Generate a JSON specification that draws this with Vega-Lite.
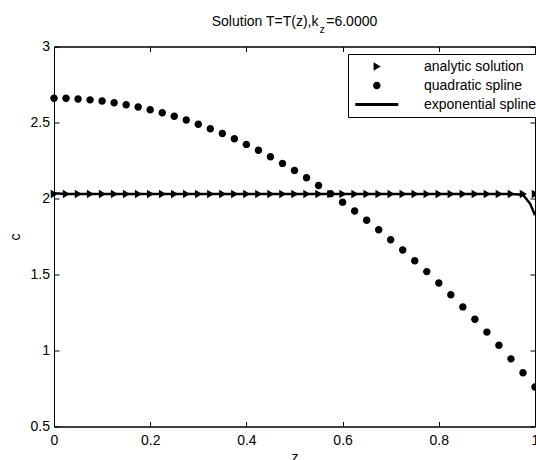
{
  "$schema": "https://vega.github.io/schema/vega-lite/v6.json",
  "width": 481,
  "height": 380,
  "autosize": {"type": "none"},
  "padding": {"left": 54, "top": 46.5, "right": 1, "bottom": 33.5},
  "background": "white",
  "title": {
    "text": "Solution T=T(z),k\u00a0\u00a0=6.0000",
    "subtitle": "\u200b\u00a0\u00a0\u00a0\u00a0\u00a0\u00a0\u00a0\u00a0\u00a0\u00a0\u00a0\u00a0\u00a0\u00a0\u00a0\u00a0\u00a0\u00a0\u00a0\u00a0z",
    "anchor": "middle",
    "font": "Liberation Sans",
    "fontSize": 14,
    "fontWeight": "normal",
    "color": "black",
    "subtitleFont": "Liberation Sans",
    "subtitleFontSize": 10,
    "subtitleColor": "black",
    "subtitlePadding": -4,
    "offset": 5
  },
  "datasets": {
    "markers": [
      {"z": 0, "c": 2.03, "s": "analytic solution"},
      {"z": 0.025, "c": 2.03, "s": "analytic solution"},
      {"z": 0.05, "c": 2.03, "s": "analytic solution"},
      {"z": 0.075, "c": 2.03, "s": "analytic solution"},
      {"z": 0.1, "c": 2.03, "s": "analytic solution"},
      {"z": 0.125, "c": 2.03, "s": "analytic solution"},
      {"z": 0.15, "c": 2.03, "s": "analytic solution"},
      {"z": 0.175, "c": 2.03, "s": "analytic solution"},
      {"z": 0.2, "c": 2.03, "s": "analytic solution"},
      {"z": 0.225, "c": 2.03, "s": "analytic solution"},
      {"z": 0.25, "c": 2.03, "s": "analytic solution"},
      {"z": 0.275, "c": 2.03, "s": "analytic solution"},
      {"z": 0.3, "c": 2.03, "s": "analytic solution"},
      {"z": 0.325, "c": 2.03, "s": "analytic solution"},
      {"z": 0.35, "c": 2.03, "s": "analytic solution"},
      {"z": 0.375, "c": 2.03, "s": "analytic solution"},
      {"z": 0.4, "c": 2.03, "s": "analytic solution"},
      {"z": 0.425, "c": 2.03, "s": "analytic solution"},
      {"z": 0.45, "c": 2.03, "s": "analytic solution"},
      {"z": 0.475, "c": 2.03, "s": "analytic solution"},
      {"z": 0.5, "c": 2.03, "s": "analytic solution"},
      {"z": 0.525, "c": 2.03, "s": "analytic solution"},
      {"z": 0.55, "c": 2.03, "s": "analytic solution"},
      {"z": 0.575, "c": 2.03, "s": "analytic solution"},
      {"z": 0.6, "c": 2.03, "s": "analytic solution"},
      {"z": 0.625, "c": 2.03, "s": "analytic solution"},
      {"z": 0.65, "c": 2.03, "s": "analytic solution"},
      {"z": 0.675, "c": 2.03, "s": "analytic solution"},
      {"z": 0.7, "c": 2.03, "s": "analytic solution"},
      {"z": 0.725, "c": 2.03, "s": "analytic solution"},
      {"z": 0.75, "c": 2.03, "s": "analytic solution"},
      {"z": 0.775, "c": 2.03, "s": "analytic solution"},
      {"z": 0.8, "c": 2.03, "s": "analytic solution"},
      {"z": 0.825, "c": 2.03, "s": "analytic solution"},
      {"z": 0.85, "c": 2.03, "s": "analytic solution"},
      {"z": 0.875, "c": 2.03, "s": "analytic solution"},
      {"z": 0.9, "c": 2.03, "s": "analytic solution"},
      {"z": 0.925, "c": 2.03, "s": "analytic solution"},
      {"z": 0.95, "c": 2.03, "s": "analytic solution"},
      {"z": 0.975, "c": 2.03, "s": "analytic solution"},
      {"z": 1, "c": 2.03, "s": "analytic solution"},
      {"z": 0, "c": 2.66, "s": "quadratic spline"},
      {"z": 0.025, "c": 2.659, "s": "quadratic spline"},
      {"z": 0.05, "c": 2.655, "s": "quadratic spline"},
      {"z": 0.075, "c": 2.649, "s": "quadratic spline"},
      {"z": 0.1, "c": 2.641, "s": "quadratic spline"},
      {"z": 0.125, "c": 2.63, "s": "quadratic spline"},
      {"z": 0.15, "c": 2.617, "s": "quadratic spline"},
      {"z": 0.175, "c": 2.602, "s": "quadratic spline"},
      {"z": 0.2, "c": 2.584, "s": "quadratic spline"},
      {"z": 0.225, "c": 2.564, "s": "quadratic spline"},
      {"z": 0.25, "c": 2.541, "s": "quadratic spline"},
      {"z": 0.275, "c": 2.516, "s": "quadratic spline"},
      {"z": 0.3, "c": 2.489, "s": "quadratic spline"},
      {"z": 0.325, "c": 2.459, "s": "quadratic spline"},
      {"z": 0.35, "c": 2.427, "s": "quadratic spline"},
      {"z": 0.375, "c": 2.393, "s": "quadratic spline"},
      {"z": 0.4, "c": 2.356, "s": "quadratic spline"},
      {"z": 0.425, "c": 2.317, "s": "quadratic spline"},
      {"z": 0.45, "c": 2.275, "s": "quadratic spline"},
      {"z": 0.475, "c": 2.231, "s": "quadratic spline"},
      {"z": 0.5, "c": 2.185, "s": "quadratic spline"},
      {"z": 0.525, "c": 2.136, "s": "quadratic spline"},
      {"z": 0.55, "c": 2.085, "s": "quadratic spline"},
      {"z": 0.575, "c": 2.032, "s": "quadratic spline"},
      {"z": 0.6, "c": 1.976, "s": "quadratic spline"},
      {"z": 0.625, "c": 1.918, "s": "quadratic spline"},
      {"z": 0.65, "c": 1.857, "s": "quadratic spline"},
      {"z": 0.675, "c": 1.794, "s": "quadratic spline"},
      {"z": 0.7, "c": 1.729, "s": "quadratic spline"},
      {"z": 0.725, "c": 1.661, "s": "quadratic spline"},
      {"z": 0.75, "c": 1.591, "s": "quadratic spline"},
      {"z": 0.775, "c": 1.519, "s": "quadratic spline"},
      {"z": 0.8, "c": 1.444, "s": "quadratic spline"},
      {"z": 0.825, "c": 1.367, "s": "quadratic spline"},
      {"z": 0.85, "c": 1.287, "s": "quadratic spline"},
      {"z": 0.875, "c": 1.205, "s": "quadratic spline"},
      {"z": 0.9, "c": 1.121, "s": "quadratic spline"},
      {"z": 0.925, "c": 1.034, "s": "quadratic spline"},
      {"z": 0.95, "c": 0.945, "s": "quadratic spline"},
      {"z": 0.975, "c": 0.854, "s": "quadratic spline"},
      {"z": 1, "c": 0.76, "s": "quadratic spline"}
    ],
    "expo": [
      {"z": 0, "c": 2.035},
      {"z": 0.025, "c": 2.03},
      {"z": 0.05, "c": 2.03},
      {"z": 0.075, "c": 2.03},
      {"z": 0.1, "c": 2.03},
      {"z": 0.125, "c": 2.03},
      {"z": 0.15, "c": 2.03},
      {"z": 0.175, "c": 2.03},
      {"z": 0.2, "c": 2.03},
      {"z": 0.225, "c": 2.03},
      {"z": 0.25, "c": 2.03},
      {"z": 0.275, "c": 2.03},
      {"z": 0.3, "c": 2.03},
      {"z": 0.325, "c": 2.03},
      {"z": 0.35, "c": 2.03},
      {"z": 0.375, "c": 2.03},
      {"z": 0.4, "c": 2.03},
      {"z": 0.425, "c": 2.03},
      {"z": 0.45, "c": 2.03},
      {"z": 0.475, "c": 2.03},
      {"z": 0.5, "c": 2.03},
      {"z": 0.525, "c": 2.03},
      {"z": 0.55, "c": 2.03},
      {"z": 0.575, "c": 2.03},
      {"z": 0.6, "c": 2.03},
      {"z": 0.625, "c": 2.03},
      {"z": 0.65, "c": 2.03},
      {"z": 0.675, "c": 2.03},
      {"z": 0.7, "c": 2.03},
      {"z": 0.725, "c": 2.03},
      {"z": 0.75, "c": 2.03},
      {"z": 0.775, "c": 2.03},
      {"z": 0.8, "c": 2.03},
      {"z": 0.825, "c": 2.03},
      {"z": 0.85, "c": 2.03},
      {"z": 0.875, "c": 2.03},
      {"z": 0.9, "c": 2.03},
      {"z": 0.925, "c": 2.03},
      {"z": 0.95, "c": 2.03},
      {"z": 0.975, "c": 2.025},
      {"z": 0.99, "c": 1.965},
      {"z": 1, "c": 1.89}
    ]
  },
  "layer": [
    {
      "data": {"name": "markers"},
      "mark": {"type": "point", "filled": true, "size": 205, "opacity": 1, "color": "black", "clip": false},
      "encoding": {
        "x": {
          "field": "z", "type": "quantitative",
          "scale": {"domain": [0, 1], "nice": false, "zero": false},
          "axis": {
            "orient": "bottom", "values": [0, 0.2, 0.4, 0.6, 0.8, 1], "format": "~g",
            "title": "z", "labelPadding": 12, "titlePadding": 3
          }
        },
        "y": {
          "field": "c", "type": "quantitative",
          "scale": {"domain": [0.5, 3], "nice": false, "zero": false},
          "axis": {
            "orient": "left", "values": [0.5, 1, 1.5, 2, 2.5, 3], "format": "~g",
            "title": "c", "labelPadding": 9.5, "titlePadding": 8
          }
        },
        "shape": {
          "field": "s", "type": "nominal",
          "scale": {
            "domain": ["analytic solution", "quadratic spline", "exponential spline"],
            "range": ["M0.55,0L-0.45,-0.6L-0.45,0.6Z", "M0.52,0A0.52,0.52 0 1 1 -0.52,0A0.52,0.52 0 1 1 0.52,0Z", "M-3,-0.2H3V0.2H-3Z"]
          },
          "legend": {
            "title": null,
            "orient": "none",
            "legendX": 294,
            "legendY": 7.5,
            "strokeColor": "black",
            "fillColor": "white",
            "padding": 5,
            "symbolSize": 205,
            "symbolOffset": 16.3,
            "labelOffset": 39.7,
            "rowPadding": 4,
            "labelFont": "Liberation Sans",
            "labelFontSize": 14,
            "labelColor": "black",
            "labelLimit": 0,
            "symbolFillColor": "black",
            "symbolStrokeWidth": 0,
            "symbolOpacity": 1
          }
        }
      }
    },
    {
      "data": {"name": "expo"},
      "mark": {"type": "line", "color": "black", "strokeWidth": 2.5, "clip": false},
      "encoding": {
        "x": {
          "field": "z", "type": "quantitative",
          "scale": {"domain": [0, 1], "nice": false, "zero": false},
          "axis": {"orient": "top", "values": [0, 0.2, 0.4, 0.6, 0.8, 1], "labels": false, "title": null}
        },
        "y": {
          "field": "c", "type": "quantitative",
          "scale": {"domain": [0.5, 3], "nice": false, "zero": false},
          "axis": {"orient": "right", "values": [0.5, 1, 1.5, 2, 2.5, 3], "labels": false, "title": null}
        }
      }
    }
  ],
  "resolve": {"axis": {"x": "independent", "y": "independent"}},
  "config": {
    "view": {"stroke": "black", "strokeWidth": 1},
    "axis": {
      "grid": false,
      "domainColor": "black",
      "domainWidth": 1,
      "tickColor": "black",
      "tickSize": -5,
      "tickWidth": 1,
      "labelFont": "Liberation Sans",
      "labelFontSize": 14,
      "labelColor": "black",
      "labelFlush": false,
      "labelOverlap": false,
      "titleFont": "Liberation Sans",
      "titleFontSize": 14,
      "titleFontWeight": "normal",
      "titleColor": "black"
    }
  }
}
